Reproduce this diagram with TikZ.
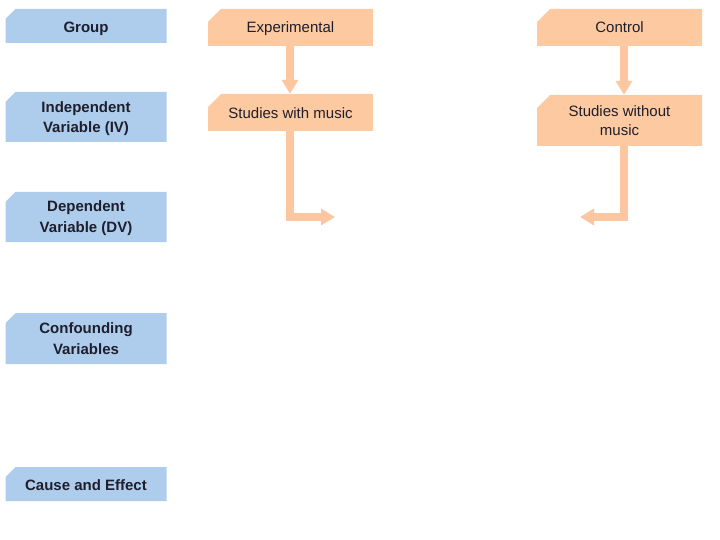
\documentclass[tikz,border=0pt]{standalone}
\usepackage{fontspec}
\setmainfont{Liberation Sans}
\usetikzlibrary{arrows.meta}
\definecolor{bluefill}{HTML}{AECDEC}
\definecolor{orangefill}{HTML}{FCC9A1}
\definecolor{arrowcol}{HTML}{FBC6A0}
\definecolor{txt}{HTML}{1E1E2C}
\newcommand\lowerby[1]{\rule{0pt}{#1}}
\tikzset{
  cutbox/.style 2 args={inner sep=0pt, align=center, text=txt,
    path picture={\fill[#1] (path picture bounding box.south west)
      -- ([yshift=-#2]path picture bounding box.north west)
      -- ([xshift=#2]path picture bounding box.north west)
      -- (path picture bounding box.north east)
      -- (path picture bounding box.south east) -- cycle;}},
  bluebox/.style={cutbox={bluefill}{10pt}, minimum width=161pt, font=\fontsize{15}{20.5}\selectfont\bfseries},
  orangebox/.style={cutbox={orangefill}{13pt}, minimum width=165pt, font=\fontsize{15}{19}\selectfont},
  flowarrow/.style={draw=arrowcol, line width=8pt, line join=miter,
    -{Triangle[width=16pt,length=14pt]}}
}
\begin{document}
\begin{tikzpicture}[x=1pt,y=-1pt]
\useasboundingbox (0,0) rectangle (720,540);
% left column
\node[bluebox, minimum height=34pt] (grp) at (86,26) {\lowerby{16pt}Group};
\node[bluebox, minimum height=50pt] (iv) at (86,117) {\lowerby{14pt}Independent\\Variable (IV)};
\node[bluebox, minimum height=50pt] (dv) at (86,217) {\lowerby{13pt}Dependent\\Variable (DV)};
\node[bluebox, minimum height=51pt] (conf) at (86,338.5) {Confounding\\Variables};
\node[bluebox, minimum height=34pt] (ce) at (86,484) {\lowerby{13pt}Cause and Effect};
% orange boxes
\node[orangebox, minimum height=37pt] (exp) at (290.5,27.5) {\lowerby{13pt}Experimental};
\node[orangebox, minimum height=37pt] (swm) at (290.5,112.5) {\lowerby{12.5pt}Studies with music};
\node[orangebox, minimum height=37pt] (ctl) at (619.5,27.5) {Control};
\node[orangebox, minimum height=51pt] (swom) at (619.5,120.5) {Studies without\\music};
% free ends
\coordinate (lend) at (335,217);
\coordinate (rend) at (580,217);
% arrows
\draw[flowarrow] (exp.south -| 290,0) -- (swm.north -| 290,0);
\draw[flowarrow] (ctl.south -| 624,0) -- (swom.north -| 624,0);
\draw[flowarrow] (swm.south -| 290,0) |- (lend);
\draw[flowarrow] (swom.south -| 624,0) |- (rend);
\end{tikzpicture}
\end{document}
